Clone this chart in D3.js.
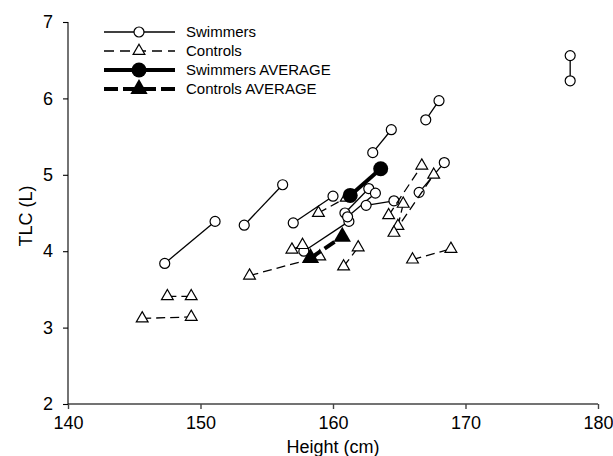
<!DOCTYPE html>
<html>
<head>
<meta charset="utf-8">
<title>TLC vs Height</title>
<script src="https://cdn.jsdelivr.net/npm/d3@7"></script>
<style>
  body { margin: 0; background: #fff; }
  text { font-family: "Liberation Sans", Arial, sans-serif; fill: #000; }
</style>
</head>
<body>
<div id="chart"></div>
<script>
// each subject measured twice: [first, second]
var swimmerHeight = [[147.3,151.1],[153.3,156.2],[157.0,160.0],[163.0,164.4],[167.0,168.0],
                     [177.9,177.9],[166.5,168.4],[157.8,161.2],[162.5,164.6],[160.9,162.7],[161.1,163.2]];
var swimmerTLC    = [[3.84,4.39],[4.34,4.87],[4.37,4.72],[5.29,5.59],[5.72,5.97],
                     [6.23,6.56],[4.77,5.16],[4.00,4.39],[4.60,4.66],[4.50,4.82],[4.45,4.76]];
var controlHeight = [[145.6,149.3],[147.5,149.3],[153.7,159.0],[156.9,157.7],[158.9,161.0],
                     [160.8,161.9],[164.2,166.7],[165.3,164.9],[164.6,167.6],[166.0,168.9]];
var controlTLC    = [[3.12,3.14],[3.41,3.41],[3.68,3.93],[4.02,4.08],[4.50,4.70],
                     [3.80,4.05],[4.47,5.12],[4.62,4.33],[4.24,5.00],[3.89,4.03]];
var swimAvgHeight = [161.3,163.6], swimAvgTLC = [4.73,5.08];
var ctrlAvgHeight = [158.3,160.7], ctrlAvgTLC = [3.91,4.19];
var xTicks = [140,150,160,170,180];
var yTicks = [2,3,4,5,6,7];
var legendLabels = ["Swimmers","Controls","Swimmers AVERAGE","Controls AVERAGE"];

var W = 613, H = 456;
var svg = d3.select("#chart").append("svg").attr("width", W).attr("height", H);

var x = d3.scaleLinear().domain([140,180]).range([68,598]);
var y = d3.scaleLinear().domain([2,7]).range([404,22]);

function pairs(hs, ts) {
  return hs.map(function(h, i) { return [[h[0], ts[i][0]], [h[1], ts[i][1]]]; });
}
var line = d3.line().x(function(d) { return x(d[0]); }).y(function(d) { return y(d[1]); });
var tri = d3.symbol().type(d3.symbolTriangle);

// axes
var xAxis = svg.append("g").attr("transform", "translate(0,404)")
  .call(d3.axisBottom(x).tickValues(xTicks).tickSize(5).tickPadding(7).tickFormat(d3.format("d")));
var yAxis = svg.append("g").attr("transform", "translate(68,0)")
  .call(d3.axisLeft(y).tickValues(yTicks).tickSize(5).tickPadding(10).tickFormat(d3.format("d")));
xAxis.selectAll("path,line").attr("stroke", "#444").attr("stroke-width", 1.4);
yAxis.selectAll("path,line").attr("stroke", "#000").attr("stroke-width", 1.1);
svg.selectAll(".tick text").style("font-size", "18px");
xAxis.select(".domain").attr("d", "M68,0H598");
yAxis.select(".domain").attr("d", "M0,22V404");

svg.append("text").attr("x", 333).attr("y", 453).attr("text-anchor", "middle")
  .style("font-size", "18px").text("Height (cm)");
svg.append("text").attr("transform", "translate(32,216) rotate(-90)").attr("text-anchor", "middle")
  .style("font-size", "18px").text("TLC (L)");

var plot = svg.append("g");

// swimmers
var sw = pairs(swimmerHeight, swimmerTLC);
plot.selectAll(".swl").data(sw).enter().append("path").attr("class", "swl")
  .attr("d", line).attr("fill", "none").attr("stroke", "#000").attr("stroke-width", 1.3);
plot.selectAll(".swp").data(d3.merge(sw)).enter().append("circle").attr("class", "swp")
  .attr("cx", function(d) { return x(d[0]); }).attr("cy", function(d) { return y(d[1]); })
  .attr("r", 5).attr("fill", "#fff").attr("stroke", "#000").attr("stroke-width", 1.2);

// controls
var ct = pairs(controlHeight, controlTLC);
plot.selectAll(".ctl").data(ct).enter().append("path").attr("class", "ctl")
  .attr("d", line).attr("fill", "none").attr("stroke", "#000").attr("stroke-width", 1.3)
  .attr("stroke-dasharray", "9,5");
plot.selectAll(".ctp").data(d3.merge(ct)).enter().append("path").attr("class", "ctp")
  .attr("transform", function(d) { return "translate(" + x(d[0]) + "," + y(d[1]) + ")"; })
  .attr("d", tri.size(60)).attr("fill", "#fff").attr("stroke", "#000").attr("stroke-width", 1.2);

// averages
var swAvg = swimAvgHeight.map(function(h, i) { return [h, swimAvgTLC[i]]; });
var ctAvg = ctrlAvgHeight.map(function(h, i) { return [h, ctrlAvgTLC[i]]; });
plot.append("path").datum(ctAvg).attr("d", line).attr("fill", "none").attr("stroke", "#000")
  .attr("stroke-width", 4).attr("stroke-dasharray", "12,5");
plot.selectAll(".cta").data(ctAvg).enter().append("path").attr("class", "cta")
  .attr("transform", function(d) { return "translate(" + x(d[0]) + "," + y(d[1]) + ")"; })
  .attr("d", tri.size(130)).attr("fill", "#000");
plot.append("path").datum(swAvg).attr("d", line).attr("fill", "none").attr("stroke", "#000")
  .attr("stroke-width", 4);
plot.selectAll(".swa").data(swAvg).enter().append("circle").attr("class", "swa")
  .attr("cx", function(d) { return x(d[0]); }).attr("cy", function(d) { return y(d[1]); })
  .attr("r", 7.5).attr("fill", "#000");

// legend
var lg = svg.append("g");
var rowY = [32, 51, 70, 89];
legendLabels.forEach(function(lab, i) {
  var g = lg.append("g").attr("transform", "translate(0," + rowY[i] + ")");
  var avg = i >= 2, dashed = i % 2 === 1;
  g.append("line").attr("x1", 104).attr("x2", 175).attr("stroke", "#000")
    .attr("stroke-width", avg ? 4 : 1.3)
    .attr("stroke-dasharray", dashed ? (avg ? "14,5" : "10,6") : null);
  if (i === 0) g.append("circle").attr("cx", 139).attr("r", 5).attr("fill", "#fff").attr("stroke", "#000").attr("stroke-width", 1.2);
  if (i === 1) g.append("path").attr("transform", "translate(139,0)").attr("d", tri.size(60)).attr("fill", "#fff").attr("stroke", "#000").attr("stroke-width", 1.2);
  if (i === 2) g.append("circle").attr("cx", 139).attr("r", 7.5).attr("fill", "#000");
  if (i === 3) g.append("path").attr("transform", "translate(139,0)").attr("d", tri.size(130)).attr("fill", "#000");
  g.append("text").attr("x", 186).attr("dy", "0.35em").style("font-size", "15px").text(lab);
});
</script>
</body>
</html>
